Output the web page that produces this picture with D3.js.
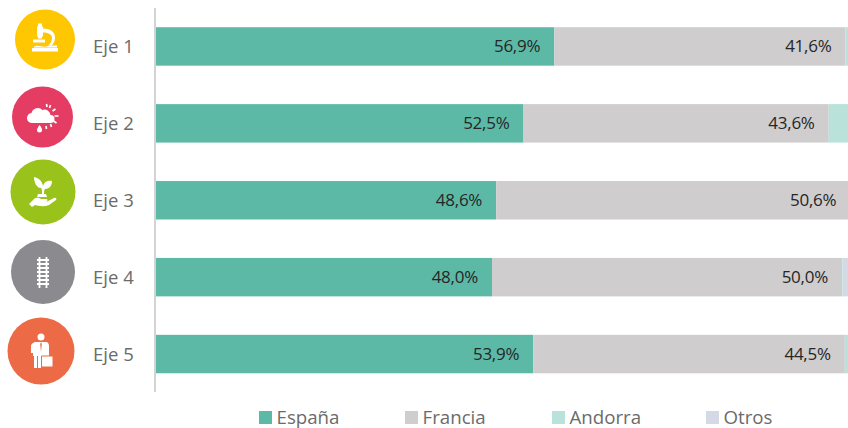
<!DOCTYPE html>
<html><head><meta charset="utf-8">
<script src="https://cdn.jsdelivr.net/npm/d3@7"></script>
<style>html,body{margin:0;padding:0;background:#fff;overflow:hidden}svg{display:block}text{font-family:"Open Sans",sans-serif}</style>
</head><body><svg id="c" width="848" height="428"></svg>
<script>
const categories=["Eje 1","Eje 2","Eje 3","Eje 4","Eje 5"];
const seriesNames=["España","Francia","Andorra","Otros"];
const espana=[56.9,52.5,48.6,48.0,53.9];
const francia=[41.6,43.6,50.6,50.0,44.5];
const andorra=[1.3,3.4,0.5,0.1,1.4];
const otros=[0.2,0.5,0.3,1.9,0.2];
const seriesValues=[espana,francia,andorra,otros];
const seriesColors=["#5cb9a6","#cfcdce","#b9e2da","#d3d9e5"];
const labelled=[true,true,false,false];
const legendX=[259,405,552,706];
const iconColors=["#ffc602","#e43c62","#99c21a","#8b8a8f","#ec6a46"];
const iconCx=[45,42.5,43,43,41];
const iconCy=[39.5,117,192,272,351];
const iconR=[30,30.5,32.5,32,33.5];

const svg=d3.select("#c");
const x=d3.scaleLinear().domain([0,100]).range([156,856]);
const y=d3.scaleBand().domain(categories).range([8,392.5]).paddingInner(0.5).paddingOuter(0.25);

const stacked=categories.map((c,i)=>{let t=0;return seriesValues.map((s,k)=>{const d={c,k,v:s[i],x0:t,x1:t+s[i]};t+=s[i];return d;});});
svg.append("g").selectAll("g").data(stacked).join("g").selectAll("rect").data(d=>d).join("rect")
 .attr("x",d=>x(d.x0)).attr("width",d=>x(d.x1)-x(d.x0))
 .attr("y",d=>y(d.c)).attr("height",y.bandwidth()).attr("fill",d=>seriesColors[d.k]);

svg.append("line").attr("x1",155).attr("x2",155).attr("y1",8).attr("y2",392).attr("stroke","#d3d3d3").attr("stroke-width",2);

svg.append("g").selectAll("text").data(stacked.flat().filter(d=>labelled[d.k])).join("text")
 .attr("x",d=>x(d.x1)-14).attr("y",d=>y(d.c)+y.bandwidth()/2+6)
 .attr("text-anchor","end").attr("font-size",17).attr("letter-spacing",-0.25).attr("fill","#262626")
 .text(d=>d.v.toFixed(1).replace(".",",")+"%");

svg.append("g").selectAll("text").data(categories).join("text")
 .attr("x",93).attr("y",c=>y(c)+y.bandwidth()/2+6.5)
 .attr("font-size",18.5).attr("fill","#6b6b6b").text(c=>c);

const lg=svg.append("g").selectAll("g").data(seriesNames).join("g").attr("transform",(d,i)=>`translate(${legendX[i]},0)`);
lg.append("rect").attr("y",411).attr("width",13).attr("height",13).attr("fill",(d,i)=>seriesColors[i]);
lg.append("text").attr("x",17.5).attr("y",424).attr("font-size",18.7).attr("fill","#6b6b6b").text(d=>d);

// icon badges
const icons=[
 g=>{ // microscope
  g.append("path").attr("d","M-7,-16h4v3h1v10h-1v2h-4v-2h-1v-10h1z M-2,-11c8,0,12,4,12,9c0,4,-2,6,-3,8h-4c3,-2,4,-5,4,-8c0,-3,-4,-5,-9,-5z M-12,0h12v3h-12z M-11,7c5,-2,8,1,12,0c4,-1,8,-1,11,-1v2h-23z M-13,8.5h26v3.5h-26z").attr("fill","#fff");
 },
 g=>{ // cloud, sun and drop
  g.append("path").attr("d","M-10,6a5,5,0,0,1,-1,-10a6.5,6.5,0,0,1,11,-3a6,6,0,0,1,8,5a4,4,0,0,1,0,8z M-3,8c2,2,2.500,4,2.500,5a2.500,2.500,0,0,1,-5,0c0,-1,1,-3,2.500,-5z").attr("fill","#fff");
  g.append("path").attr("d","M4,-13l.5,3M8,-12l-1,3M13,-8l-3,2M16,-1h-4M14,6l-3,-2M9,10l-1,-3M4,12l-.5,-3").attr("stroke","#fff").attr("stroke-width",1.7).attr("fill","none");
 },
 g=>{ // plant on a hand
  g.append("path").attr("d","M-1,2c0,-3,0,-5,-1,-6c-4,0,-7,-5,-7,-11c5,1,8,4,9,9c1,-3,3,-6,9,-5c0,5,-3,8,-7,8c-1,1,-1,3,-1,5z M-5,2h8l1,3h-10z").attr("fill","#fff");
  g.append("path").attr("d","M-14,12l5,-5c3,-2,5,-1,7,0h5c2,0,2,2,0,2.500h-4h5l7,-3.500c2,-1,3,1,2,2l-7,5c-5,2,-10,1,-14,0l-3,2z").attr("fill","#fff");
 },
 g=>{ // railway track
  g.append("path").attr("d","M-3.500,-15v31M3.500,-15v31").attr("stroke","#fff").attr("stroke-width",1.8).attr("fill","none");
  g.append("path").attr("d","M-6,-12h12M-6,-8h12M-6,-4h12M-6,0h12M-6,4h12M-6,8h12M-6,12h12").attr("stroke","#fff").attr("stroke-width",1.8).attr("fill","none");
 },
 g=>{ // person with a briefcase
  g.append("circle").attr("cx",0).attr("cy",-14).attr("r",3.5).attr("fill","#fff");
  g.append("path").attr("d","M-5,-9h10c2,0,3,2,3,4v10h-8v12h-3v-12h-1v12h-3v-12h-1v-3l-1,0h-1v-7c0,-2,3,-4,5,-4z").attr("fill","#fff");
  g.append("path").attr("d","M0,-9l-.8,2l.8,8l.8,-8z").attr("fill",iconColors[4]);
  g.append("path").attr("d","M0.500,5h11.500v11h-11.500z").attr("fill","#fff").attr("stroke",iconColors[4]).attr("stroke-width",1);
 }
];
const ig=svg.append("g").selectAll("g").data(categories).join("g")
 .attr("transform",(d,i)=>`translate(${iconCx[i]},${iconCy[i]})`);
ig.append("circle").attr("r",(d,i)=>iconR[i]).attr("fill",(d,i)=>iconColors[i]);
ig.each(function(d,i){icons[i](d3.select(this));});
</script></body></html>
